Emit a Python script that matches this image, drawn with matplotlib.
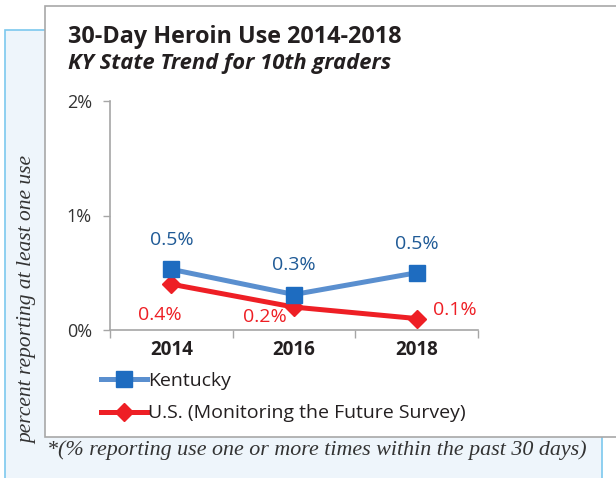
import matplotlib.pyplot as plt
from matplotlib.patches import Rectangle

# Data
years = ["2014", "2016", "2018"]
kentucky = [0.53, 0.31, 0.50]
us_mtf = [0.40, 0.20, 0.10]
kentucky_labels = ["0.5%", "0.3%", "0.5%"]
us_labels = ["0.4%", "0.2%", "0.1%"]
y_ticks = [0, 1, 2]
y_tick_labels = ["0%", "1%", "2%"]

SANS = ["Open Sans", "DejaVu Sans"]
SERIF = ["Liberation Serif", "DejaVu Serif"]
KY_LINE = "#5A8FCF"
KY_MARK = "#1E6CC0"
KY_TEXT = "#1F5A96"
US_RED = "#EE1F25"

W, H = 616, 478
fig = plt.figure(figsize=(W / 100, H / 100), dpi=100)


def fx(px):
    return px / W


def fy(py):
    return 1 - py / H


# light blue background panel
fig.patches.append(Rectangle((fx(5), fy(480)), fx(597), (480 - 30) / H,
                             transform=fig.transFigure, facecolor="#EEF5FB",
                             edgecolor="#7CC8EE", linewidth=1.2, zorder=0))
# white chart box
fig.patches.append(Rectangle((fx(45), fy(437)), fx(580), (437 - 6) / H,
                             transform=fig.transFigure, facecolor="white",
                             edgecolor="#A8A8A8", linewidth=1.2, zorder=1))

fig.text(fx(68), fy(37), "30-Day Heroin Use 2014-2018", fontsize=16.8,
         fontweight="bold", family=SANS, color="#231F20", va="center")
fig.text(fx(68), fy(63), "KY State Trend for 10th graders", fontsize=15.8,
         fontweight="bold", style="italic", family=SANS, color="#231F20",
         va="center")

fig.text(fx(28), fy(300), "percent reporting at least one use", rotation=90,
         fontsize=15.5, style="italic", family=SERIF, color="#333333",
         ha="center", va="center")
fig.text(fx(47), fy(450), "*(% reporting use one or more times within the past 30 days)",
         fontsize=15.8, style="italic", family=SERIF, color="#333333",
         ha="left", va="center")

ax = fig.add_axes([fx(110), fy(330), fx(368), (330 - 101) / H], zorder=2)
ax.patch.set_alpha(0)
x = list(range(len(years)))

ax.plot(x, kentucky, color=KY_LINE, linewidth=3.6, marker="s", markersize=11.5,
        markerfacecolor=KY_MARK, markeredgecolor=KY_MARK, label="Kentucky",
        zorder=4)
ax.plot(x, us_mtf, color=US_RED, linewidth=3.6, marker="D", markersize=9.5,
        markerfacecolor=US_RED, markeredgecolor=US_RED,
        label="U.S. (Monitoring the Future Survey)", zorder=3)

for i, lab in enumerate(kentucky_labels):
    ax.annotate(lab, (x[i], kentucky[i]), xytext=(0, 21), textcoords="offset points",
                ha="center", va="center", fontsize=14, color=KY_TEXT, family=SANS)

us_offsets = [(-8, -22, "center"), (-21, -7, "center"), (12, 6, "left")]
for i, lab in enumerate(us_labels):
    dx, dy, ha = us_offsets[i]
    ax.annotate(lab, (x[i], us_mtf[i]), xytext=(dx, dy), textcoords="offset points",
                ha=ha, va="center", fontsize=14, color=US_RED, family=SANS)

ax.set_xlim(-0.5, 2.5)
ax.set_ylim(0, 2)
ax.set_yticks(y_ticks)
ax.set_yticklabels(y_tick_labels, fontsize=13, family=SANS, color="#333333")
ax.set_xticks(x)
ax.set_xticklabels(years, fontsize=13.5, fontweight="bold", family=SANS,
                   color="#231F20")
ax.set_xticks([-0.5, 0.5, 1.5, 2.5], minor=True)
ax.tick_params(axis="x", which="major", length=0, pad=7)
ax.tick_params(axis="x", which="minor", length=6, color="#A6A6A6", width=1)
ax.tick_params(axis="y", length=5, color="#A6A6A6", width=1, pad=8)
for side in ["top", "right"]:
    ax.spines[side].set_visible(False)
for side in ["left", "bottom"]:
    ax.spines[side].set_color("#A6A6A6")
    ax.spines[side].set_linewidth(1.2)

leg = fig.legend(loc="upper left", bbox_to_anchor=(fx(93), fy(364)),
                 frameon=False, prop={"family": SANS, "size": 14},
                 handlelength=2.4, handletextpad=0.05, labelspacing=0.75,
                 borderaxespad=0)
for t in leg.get_texts():
    t.set_color("#231F20")

fig.savefig("out.png", dpi=100)
